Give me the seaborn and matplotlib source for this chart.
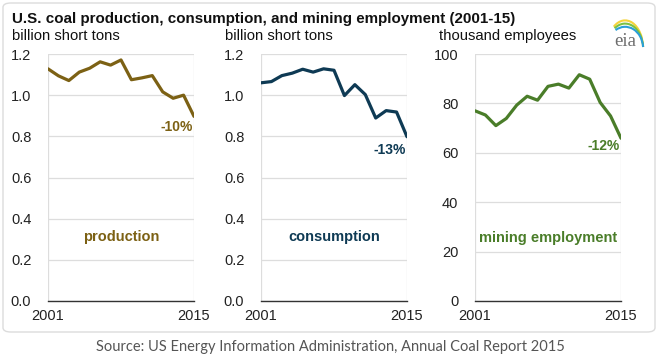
import matplotlib
matplotlib.use("Agg")
import matplotlib.pyplot as plt
from matplotlib.patches import FancyBboxPatch, Arc
import pandas as pd
import seaborn as sns

# data (EIA Annual Coal Report 2015)
years = list(range(2001, 2016))
production = [1.128, 1.094, 1.071, 1.112, 1.131, 1.162, 1.146, 1.171,
              1.075, 1.084, 1.095, 1.016, 0.985, 1.000, 0.897]
consumption = [1.060, 1.066, 1.095, 1.107, 1.126, 1.112, 1.128, 1.121,
               0.998, 1.051, 1.003, 0.889, 0.925, 0.918, 0.798]
employment = [77.0, 75.3, 71.0, 73.9, 79.3, 82.9, 81.3, 86.9,
              87.8, 86.2, 91.6, 89.8, 80.4, 74.9, 65.9]
units = ["billion short tons", "billion short tons", "thousand employees"]
names = ["production", "consumption", "mining employment"]
changes = ["-10%", "-13%", "-12%"]

df = pd.DataFrame({"year": years, "production": production,
                   "consumption": consumption, "mining employment": employment})

sns.set_style("white")
plt.rcParams["font.family"] = ["Liberation Sans", "DejaVu Sans"]

colors = ["#7c6114", "#0e3a54", "#4a7d29"]
ylims = [(0, 1.2), (0, 1.2), (0, 100)]
yticks = [[0, 0.2, 0.4, 0.6, 0.8, 1.0, 1.2], [0, 0.2, 0.4, 0.6, 0.8, 1.0, 1.2],
          [0, 20, 40, 60, 80, 100]]
yfmt = ["{:.1f}", "{:.1f}", "{:.0f}"]
lefts = [48, 261, 475]
# label positions (data coords)
change_y = [0.845, 0.735, 62.8]
name_y = [0.31, 0.31, 25.6]

fig = plt.figure(figsize=(6.6, 3.6), dpi=100)

# rounded frame
box = FancyBboxPatch((3 / 660, 1 - 332 / 360), 652 / 660, 329 / 360,
                     boxstyle="round,pad=0,rounding_size=0.012",
                     transform=fig.transFigure, facecolor="none",
                     edgecolor="#dcdcdc", linewidth=1.0, zorder=-5)
fig.patches.append(box)

for i, col in enumerate(names):
    ax = fig.add_axes([lefts[i] / 660, 1 - 301 / 360, 146 / 660, 247 / 360])
    ax.patch.set_alpha(0)
    sns.lineplot(data=df, x="year", y=col, ax=ax, color=colors[i], linewidth=2.3)
    ax.set_xlim(2001, 2015)
    ax.set_ylim(*ylims[i])
    ax.set_yticks(yticks[i])
    ax.set_yticklabels([yfmt[i].format(v) for v in yticks[i]], fontsize=10.5,
                       color="#222222")
    ax.set_xticks([2001, 2015])
    ax.set_xticklabels(["2001", "2015"], fontsize=10.5, color="#222222")
    ax.tick_params(axis="y", length=0, pad=12)
    ax.tick_params(axis="x", length=0, pad=6)
    ax.set_xlabel("")
    ax.set_ylabel("")
    ax.grid(axis="y", color="#dddddd", linewidth=0.9)
    for s in ["left", "right", "top"]:
        ax.spines[s].set_visible(False)
    ax.axvline(2001, color="#dddddd", linewidth=0.9, zorder=0)
    ax.axvline(2015, color="#dddddd", linewidth=0.9, zorder=0)
    ax.spines["bottom"].set_color("#333333")
    ax.spines["bottom"].set_linewidth(1.0)
    ax.text(2014.85, change_y[i], changes[i], ha="right", va="center",
            fontsize=10, fontweight="bold", color=colors[i])
    ax.text(2008, name_y[i], col, ha="center", va="center",
            fontsize=10.5, fontweight="bold", color=colors[i])
    fig.text((lefts[i] - 36) / 660, 1 - 36 / 360, units[i], ha="left",
             va="center", fontsize=10.7, color="#111111")

fig.text(12 / 660, 1 - 19 / 360,
         "U.S. coal production, consumption, and mining employment (2001-15)",
         ha="left", va="center", fontsize=10.9, fontweight="bold",
         color="#111111")

# eia logo
lax = fig.add_axes([610 / 660, 1 - 50 / 360, 36 / 660, 32 / 360])
lax.set_xlim(0, 1)
lax.set_ylim(0, 1)
lax.axis("off")
lax.text(0.42, 0.28, "eia", ha="center", va="center", fontsize=13.5,
         family="Liberation Serif", color="#6d6d6d")
for h, c in [(1.75, "#f5d33a"), (1.55, "#7cc142"), (1.35, "#2a9fd8")]:
    lax.add_patch(Arc((0.42, 0.05), 1.0, h, theta1=5, theta2=115,
                      color=c, linewidth=1.5))

fig.text(0.5, 1 - 347 / 360,
         "Source: US Energy Information Administration, Annual Coal Report 2015",
         ha="center", va="center", fontsize=10.5, family=["Lato", "DejaVu Sans"],
         color="#555555")

fig.savefig("out.png", dpi=100)
